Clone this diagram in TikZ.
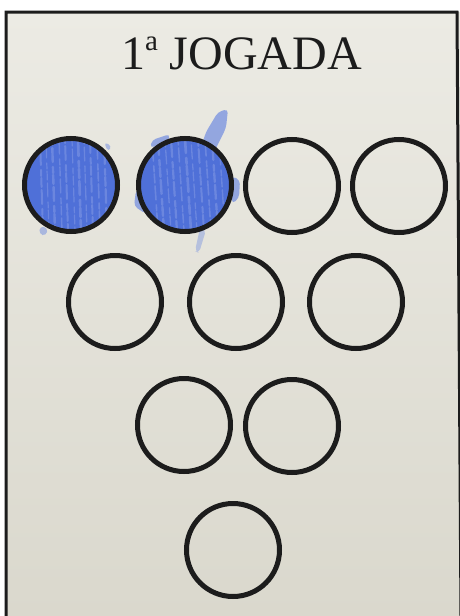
\documentclass[tikz,border=0pt]{standalone}
\usepackage{fontspec}
\usetikzlibrary{calc}
\setmainfont{Liberation Serif}
\definecolor{paper}{HTML}{ECEBE4}
\definecolor{paperlow}{HTML}{DAD8CD}
\definecolor{crayon}{HTML}{4F70D8}
\definecolor{crayonlight}{HTML}{6F8BE0}
\definecolor{ink}{HTML}{1C1C1C}
\begin{document}
\begin{tikzpicture}[x=1pt,y=-1pt,
  hole/.style={circle,draw=ink,line width=5pt,minimum size=93pt,inner sep=0pt},
  filled/.style={hole,fill=crayon},
  scribble/.style={fill=crayonlight,opacity=0.7,rounded corners=4pt},
  streak/.style={draw=white,opacity=0.16,line cap=round,dash pattern=on 9pt off 3pt on 14pt off 5pt on 6pt off 2pt}]
\useasboundingbox (0,0) rectangle (460,616);
\fill[white] (0,0) rectangle (460,616);
\shade[top color=paper,bottom color=paperlow] (6,12) rectangle (461,616);
\draw[line width=3pt,ink] (6,616) -- (6,12) -- (457,12) -- (461,616);

% title
\node[anchor=base,text=ink] (title) at (241.5,69)
  {\fontsize{48}{50}\selectfont 1\raisebox{18.5pt}{\fontsize{29}{30}\selectfont a} JOGADA};

% crayon overflow around the coloured holes
\fill[scribble] (218,112) -- (228,109) -- (226,128) -- (214,152) -- (200,150) -- (206,132) -- cycle;
\fill[scribble] (232,176) -- (240,180) -- (239,198) -- (232,204) -- cycle;
\fill[scribble] (136,190) -- (142,188) -- (146,214) -- (134,206) -- cycle;
\fill[scribble,opacity=0.4] (200,228) -- (206,230) -- (199,253) -- (195,251) -- cycle;
\fill[scribble] (152,140) -- (170,134) -- (168,142) -- (150,148) -- cycle;
\fill[scribble,opacity=0.5] (40,226) -- (48,228) -- (46,236) -- (39,234) -- cycle;
\fill[scribble,opacity=0.5] (104,142) -- (112,146) -- (108,152) -- cycle;

% row 1
\node[filled] (h1) at (71,185) {};
\node[filled] (h2) at (185,185) {};
\node[hole] (h3) at (292,186) {};
\node[hole] (h4) at (399,186) {};
% row 2
\node[hole] (h5) at (115,302) {};
\node[hole] (h6) at (236,302) {};
\node[hole] (h7) at (356,302) {};
% row 3
\node[hole] (h8) at (184,425) {};
\node[hole] (h9) at (292,426) {};
% row 4
\node[hole] (h10) at (233,550) {};

% crayon texture inside the coloured holes
\begin{scope}
  \clip (h1.center) circle (44);
  \foreach \dx/\w/\o in {-31/2/0,-25/1.2/7,-19/2.4/3,-12/1.4/11,-6/2/5,1/1.2/2,7/2.6/9,13/1.3/4,19/2/12,26/1.6/6,33/2.2/1}
    \draw[streak,line width=\w pt,dash phase=\o pt] ($(h1.center)+(\dx,-46)$) -- ($(h1.center)+(\dx+3,46)$);
\end{scope}
\begin{scope}
  \clip (h2.center) circle (44);
  \foreach \dx/\w/\o in {-33/1.6/4,-27/2.4/10,-20/1.3/1,-14/2.2/8,-7/1.5/3,0/2.6/12,6/1.3/6,13/2/2,20/1.6/9,27/2.3/5,34/1.4/0}
    \draw[streak,line width=\w pt,dash phase=\o pt] ($(h2.center)+(\dx,-46)$) -- ($(h2.center)+(\dx+6,46)$);
\end{scope}
\end{tikzpicture}
\end{document}
